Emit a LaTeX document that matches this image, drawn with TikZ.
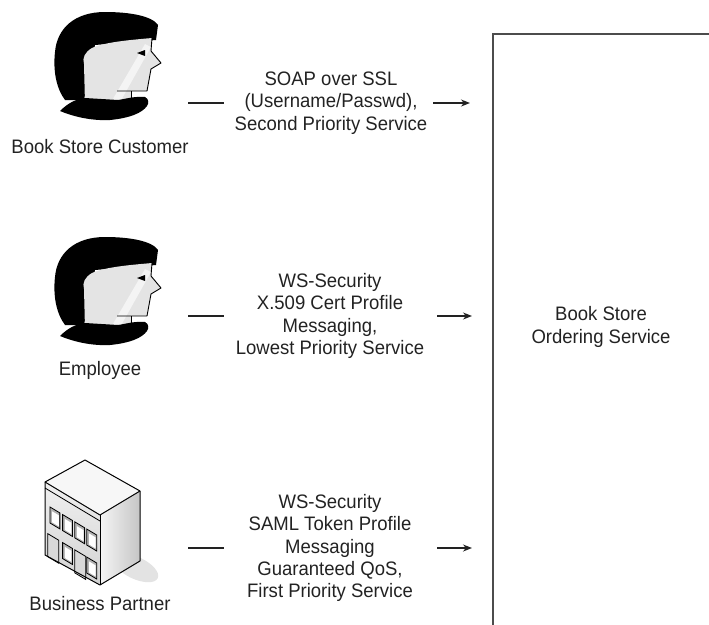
\documentclass[tikz,border=0pt]{standalone}
\usepackage{fontspec}
\setmainfont{Liberation Sans}[FakeStretch=0.95]
\usetikzlibrary{arrows.meta}

\definecolor{ink}{HTML}{222222}
\definecolor{skin}{HTML}{E4E4E4}
\definecolor{skinlight}{HTML}{F4F4F4}

\tikzset{
  lbl/.style={font=\fontsize{19.5}{22.3}\selectfont, text=ink, align=center, inner sep=0pt},
  dashline/.style={line width=1.4pt, draw=ink},
  arrowline/.style={line width=1.4pt, draw=ink, -{Stealth[length=9pt,width=7pt]}},
  edge/.style={line width=1pt, line join=round, draw=black}
}

\begin{document}
\begin{tikzpicture}[x=1pt, y=-1pt]
\useasboundingbox (0,0) rectangle (709,624);

% ---------- people (same profile drawn twice) ----------
\foreach \dy in {0,225} {
  \begin{scope}[shift={(0,\dy)}]
    % hair
    \fill[black] (65,100) .. controls (56,88) and (53,70) .. (55,52)
      .. controls (57,28) and (75,12) .. (105,12)
      .. controls (130,12) and (152,16) .. (158,25) -- (156,40) -- (95,45) -- (84,100) -- cycle;
    % face and neck
    \fill[skin] (152,38) .. controls (130,40) and (105,42) .. (92,48)
      .. controls (85,52) and (82,58) .. (84,64) -- (85,104) -- (131,104) -- (131,91)
      -- (147,91) -- (151,69) -- (161,63) -- (151,51) -- cycle;
    \fill[skinlight] (110,104) -- (145,44) -- (151,47) -- (119,104) -- cycle;
    \draw[line width=0.9pt, line join=round] (152,38) -- (151,51) -- (161,63) -- (151,69) -- (147,91) -- (117,91);
    \draw[line width=0.9pt] (131,91) -- (131,100);
    % eye
    \fill[black] (137,53) -- (145,50) -- (145,56) -- cycle;
    % shoulders
    \fill[black] (60,111) .. controls (68,103) and (76,99) .. (85,98) -- (118,100)
      .. controls (125,99) and (135,96) .. (145,97)
      .. controls (149,99) and (149,103) .. (147,106)
      .. controls (142,113) and (130,118) .. (110,120)
      .. controls (90,121) and (72,116) .. (60,111) -- cycle;
  \end{scope}
}

% ---------- office building ----------
\fill[gray!22] (136,568) ellipse [x radius=24pt, y radius=11pt, rotate=-25];
\coordinate (bA) at (45,482);
\coordinate (bB) at (85,460);
\coordinate (bC) at (140,491);
\coordinate (bD) at (100,515);
\coordinate (bA2) at (45,555);
\coordinate (bD2) at (100,585);
\coordinate (bC2) at (140,561);
\fill[gray!6] (bA) -- (bB) -- (bC) -- (bD) -- cycle;
\shade[left color=gray!8, right color=gray!45] (bD) -- (bC) -- (bC2) -- (bD2) -- cycle;
\shade[top color=gray!12, bottom color=gray!35] (bA) -- (bD) -- (bD2) -- (bA2) -- cycle;
\draw[line width=0.8pt] (45,488) -- (100,521);
\foreach \u in {0.09,0.32,0.54,0.76} {
  \filldraw[fill=gray!60, draw=black, line width=0.8pt]
    ({45+55*\u},{482+33*\u+22}) -- ({45+55*(\u+0.18)},{482+33*(\u+0.18)+22})
    -- ++(0,16) -- ({45+55*\u},{482+33*\u+38}) -- cycle;
  \fill[white]
    ({45+55*(\u+0.04)},{482+33*(\u+0.04)+25}) -- ({45+55*(\u+0.16)},{482+33*(\u+0.16)+25})
    -- ++(0,11) -- ({45+55*(\u+0.04)},{482+33*(\u+0.04)+36}) -- cycle;
}
\foreach \u in {0.32,0.76} {
  \filldraw[fill=gray!60, draw=black, line width=0.8pt]
    ({45+55*\u},{482+33*\u+50}) -- ({45+55*(\u+0.18)},{482+33*(\u+0.18)+50})
    -- ++(0,16) -- ({45+55*\u},{482+33*\u+66}) -- cycle;
  \fill[white]
    ({45+55*(\u+0.04)},{482+33*(\u+0.04)+53}) -- ({45+55*(\u+0.16)},{482+33*(\u+0.16)+53})
    -- ++(0,11) -- ({45+55*(\u+0.04)},{482+33*(\u+0.04)+64}) -- cycle;
}
\foreach \u in {0.05,0.54} {
  \filldraw[fill=gray!30, draw=black, line width=0.8pt]
    ({45+55*\u},{482+33*\u+50}) -- ({45+55*(\u+0.2)},{482+33*(\u+0.2)+50})
    -- ({45+55*(\u+0.2)},{482+33*(\u+0.2)+73}) -- ({45+55*\u},{482+33*\u+73}) -- cycle;
}
\draw[edge] (bA) -- (bB) -- (bC) -- (bC2) -- (bD2) -- (bA2) -- cycle;
\draw[edge] (bA) -- (bD) -- (bC);
\draw[edge] (bD) -- (bD2);

% ---------- captions ----------
\node[lbl] (customer) at (100,147) {Book Store Customer};
\node[lbl] (employee) at (100,370) {Employee};
\node[lbl] (partner)  at (100,604) {Business Partner};

% ---------- service box ----------
\draw[line width=2pt, draw=black!70] (712,34) -| (493,627);
\node[lbl] (service) at (601,327) {Book Store\\Ordering Service};

% ---------- channel descriptions ----------
\node[lbl] (ch1) at (331,103) {SOAP over SSL\\(Username/Passwd),\\Second Priority Service};
\node[lbl] (ch2) at (330,316) {WS-Security\\X.509 Cert Profile\\Messaging,\\Lowest Priority Service};
\node[lbl] (ch3) at (330,548) {WS-Security\\SAML Token Profile\\Messaging\\Guaranteed QoS,\\First Priority Service};

% ---------- connectors ----------
\coordinate (c1a) at (188,103); \coordinate (c1b) at (224,103);
\coordinate (c1c) at (433,103); \coordinate (c1d) at (470,103);
\coordinate (c2a) at (188,316); \coordinate (c2b) at (224,316);
\coordinate (c2c) at (437,316); \coordinate (c2d) at (472,316);
\coordinate (c3a) at (188,548); \coordinate (c3b) at (224,548);
\coordinate (c3c) at (437,548); \coordinate (c3d) at (472,548);
\draw[dashline] (c1a) -- (c1b);
\draw[arrowline] (c1c) -- (c1d);
\draw[dashline] (c2a) -- (c2b);
\draw[arrowline] (c2c) -- (c2d);
\draw[dashline] (c3a) -- (c3b);
\draw[arrowline] (c3c) -- (c3d);
\end{tikzpicture}
\end{document}
